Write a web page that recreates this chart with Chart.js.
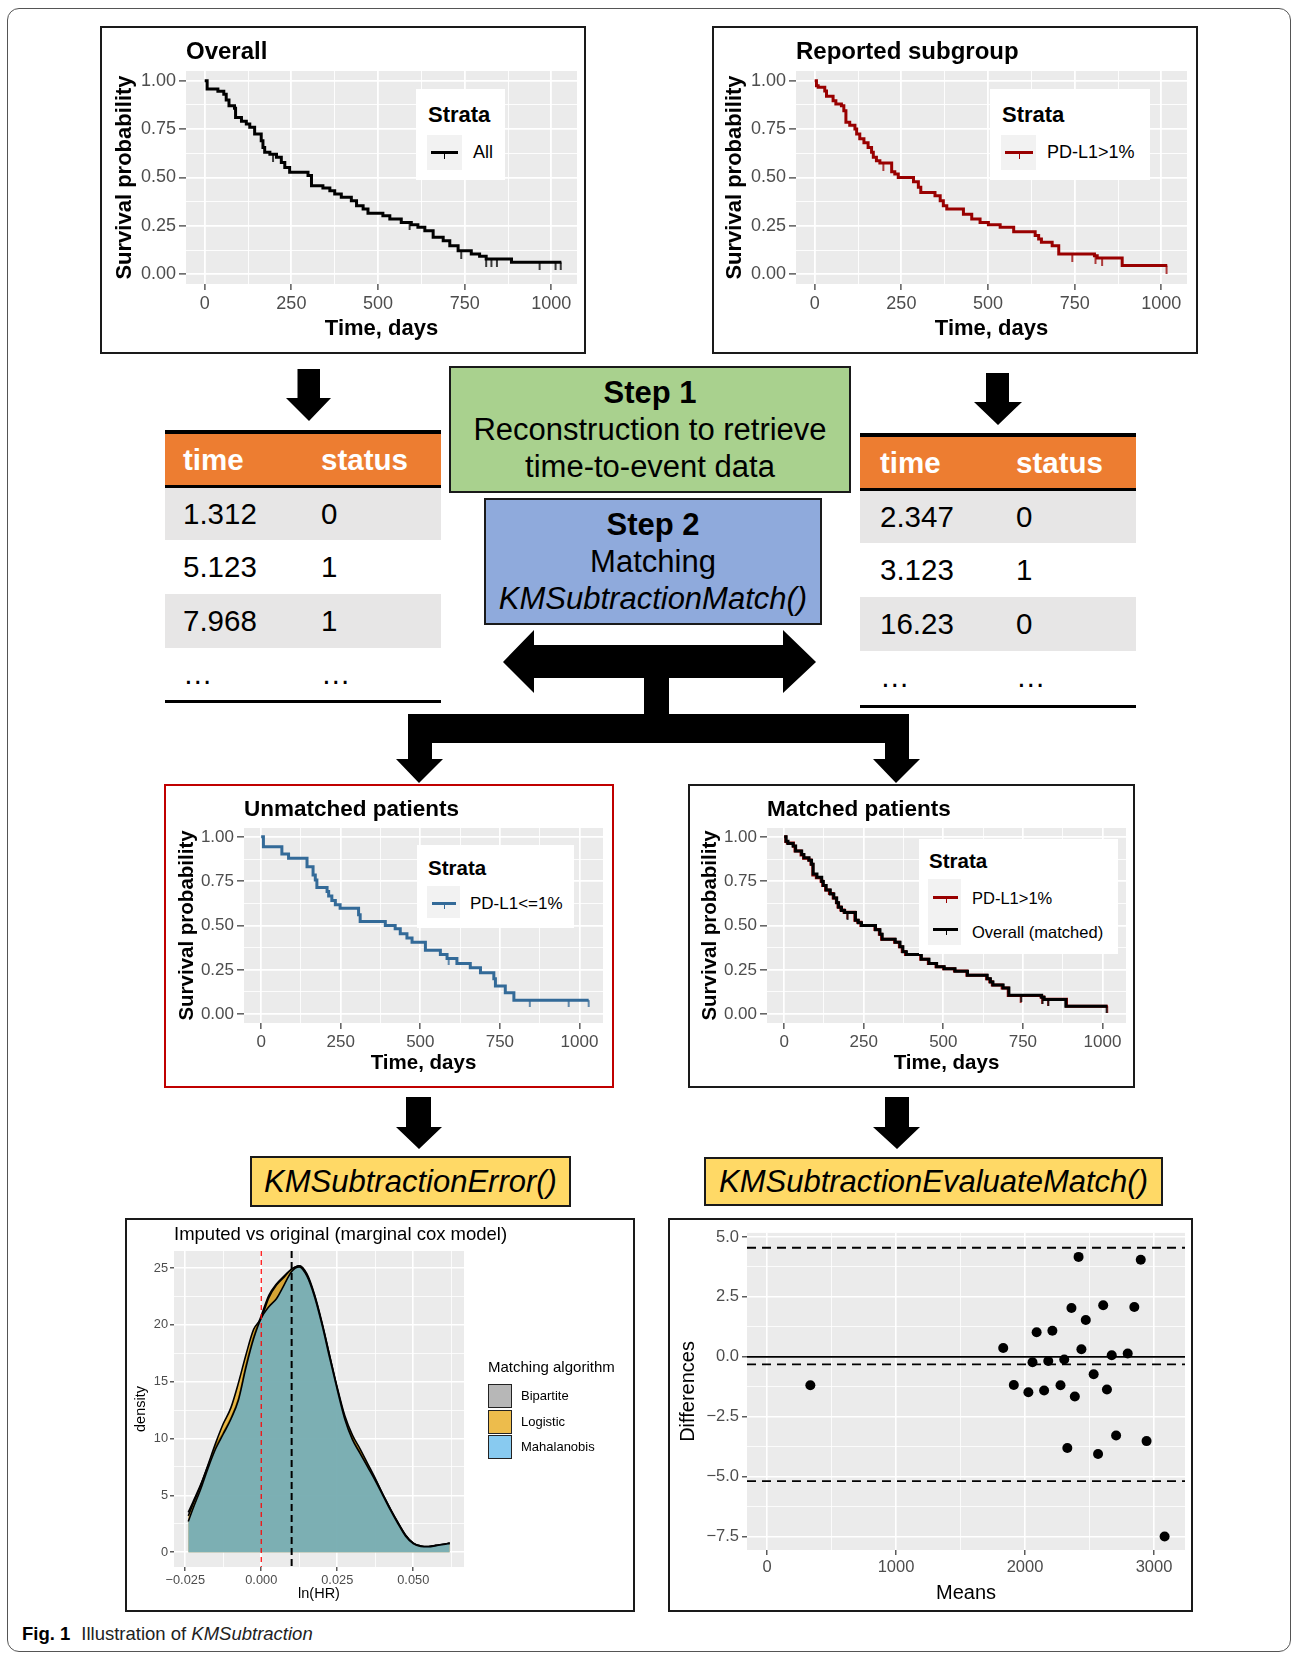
<!DOCTYPE html>
<html>
<head>
<meta charset="utf-8">
<title>Illustration of KMSubtraction</title>
<script src="https://cdn.jsdelivr.net/npm/chart.js@4.4.1/dist/chart.umd.min.js"></script>
<style>
  body { margin: 0; width: 1292px; height: 1654px; position: relative; background: #fff; overflow: hidden;
         font-family: "Liberation Sans", Arial, Helvetica, sans-serif; color: #000; }
  .abs { position: absolute; }
  .frame { position: absolute; left: 7px; top: 8px; width: 1284px; height: 1644px; border: 1px solid #555;
           border-radius: 12px; box-sizing: border-box; }
  .panel { position: absolute; box-sizing: border-box; border: 2px solid #1a1a1a; background: #fff; }
  .panel canvas { position: absolute; left: 0; top: 0; }
  .tx { position: absolute; line-height: 1; white-space: nowrap; }
  .leg { position: absolute; background: #fff; }
  .key { position: absolute; background: #F2F2F2; }
  .ln { position: absolute; height: 3px; }
  .tk { position: absolute; width: 1.5px; height: 7px; }
  .sq { position: absolute; width: 24px; height: 24px; box-sizing: border-box; border: 1.5px solid #222; }
  .step { position: absolute; box-sizing: border-box; border: 2px solid #1a1a1a; display: flex; flex-direction: column;
          align-items: center; justify-content: center; font-size: 31px; line-height: 37px; text-align: center; }
  .fn { position: absolute; box-sizing: border-box; border: 2px solid #1a1a1a; background: #FFD966; font-style: italic;
        font-size: 31px; display: flex; align-items: center; justify-content: center; }
  .bar { position: absolute; }
  .cell { position: absolute; font-size: 29.5px; white-space: nowrap; }
  .hd { color: #fff; font-weight: bold; }
</style>
</head>
<body>
<div class="frame"></div>

<!-- arrows -->
<svg class="abs" style="left:0;top:0" width="1292" height="1654">
  <polygon fill="#000" points="297.5,369 320,369 320,398 331,398 309,421 286,398 297.5,398"/>
  <polygon fill="#000" points="986,373 1009,373 1009,402 1022,402 998,425 974,402 986,402"/>
  <polygon fill="#000" points="503,662 534,630 534,645 783,645 783,630 816,662 783,693 783,678 534,678 534,693"/>
  <rect fill="#000" x="644" y="677" width="25" height="38"/>
  <polygon fill="#000" points="408,714 909,714 909,759 920,759 896,783 873,759 885,759 885,743 432,743 432,759 443,759 419,783 396,759 408,759"/>
  <polygon fill="#000" points="406,1097 431,1097 431,1127 442,1127 419,1149 396,1127 406,1127"/>
  <polygon fill="#000" points="885,1097 909,1097 909,1127 920,1127 897,1149 873,1127 885,1127"/>
</svg>

<!-- top KM panels -->
<div class="panel" style="left:100px;top:26px;width:486px;height:328px"><canvas id="kmOverall" width="482" height="324"></canvas></div>
<div class="panel" style="left:712px;top:26px;width:486px;height:328px"><canvas id="kmSubgroup" width="482" height="324"></canvas></div>

<div class="leg" style="left:416px;top:89px;width:89px;height:91px"></div>
<div class="tx" style="left:428px;top:104px;font-size:22px;font-weight:bold">Strata</div>
<div class="key" style="left:427px;top:135px;width:35px;height:35px"></div>
<div class="ln" style="left:431px;top:150.5px;width:27px;background:#000"></div>
<div class="tk" style="left:443.5px;top:152px;background:#000"></div>
<div class="tx" style="left:473px;top:143px;font-size:18px">All</div>

<div class="leg" style="left:990px;top:89px;width:160px;height:91px"></div>
<div class="tx" style="left:1002px;top:104px;font-size:22px;font-weight:bold">Strata</div>
<div class="key" style="left:1001px;top:135px;width:35px;height:35px"></div>
<div class="ln" style="left:1005px;top:150.5px;width:28px;background:#990000"></div>
<div class="tk" style="left:1018.5px;top:152px;background:#990000"></div>
<div class="tx" style="left:1047px;top:143px;font-size:18px">PD-L1&gt;1%</div>

<!-- tables -->
<div class="bar" style="left:165px;top:430px;width:276px;height:4px;background:#000"></div>
<div class="bar" style="left:165px;top:434px;width:276px;height:51px;background:#ED7D31"></div>
<div class="bar" style="left:165px;top:485px;width:276px;height:3px;background:#000"></div>
<div class="bar" style="left:165px;top:488px;width:276px;height:52px;background:#E7E6E6"></div>
<div class="bar" style="left:165px;top:594px;width:276px;height:54px;background:#E7E6E6"></div>
<div class="bar" style="left:165px;top:700px;width:276px;height:3px;background:#000"></div>
<div class="cell hd" style="left:183px;top:434px;line-height:51px">time</div>
<div class="cell hd" style="left:321px;top:434px;line-height:51px">status</div>
<div class="cell" style="left:183px;top:488px;line-height:52px">1.312</div>
<div class="cell" style="left:321px;top:488px;line-height:52px">0</div>
<div class="cell" style="left:183px;top:540px;line-height:54px">5.123</div>
<div class="cell" style="left:321px;top:540px;line-height:54px">1</div>
<div class="cell" style="left:183px;top:594px;line-height:54px">7.968</div>
<div class="cell" style="left:321px;top:594px;line-height:54px">1</div>
<div class="cell" style="left:183px;top:648px;line-height:52px">…</div>
<div class="cell" style="left:321px;top:648px;line-height:52px">…</div>

<div class="bar" style="left:860px;top:433px;width:276px;height:4px;background:#000"></div>
<div class="bar" style="left:860px;top:437px;width:276px;height:51px;background:#ED7D31"></div>
<div class="bar" style="left:860px;top:488px;width:276px;height:3px;background:#000"></div>
<div class="bar" style="left:860px;top:491px;width:276px;height:52px;background:#E7E6E6"></div>
<div class="bar" style="left:860px;top:597px;width:276px;height:54px;background:#E7E6E6"></div>
<div class="bar" style="left:860px;top:705px;width:276px;height:3px;background:#000"></div>
<div class="cell hd" style="left:880px;top:437px;line-height:51px">time</div>
<div class="cell hd" style="left:1016px;top:437px;line-height:51px">status</div>
<div class="cell" style="left:880px;top:491px;line-height:52px">2.347</div>
<div class="cell" style="left:1016px;top:491px;line-height:52px">0</div>
<div class="cell" style="left:880px;top:543px;line-height:54px">3.123</div>
<div class="cell" style="left:1016px;top:543px;line-height:54px">1</div>
<div class="cell" style="left:880px;top:597px;line-height:54px">16.23</div>
<div class="cell" style="left:1016px;top:597px;line-height:54px">0</div>
<div class="cell" style="left:880px;top:651px;line-height:52px">…</div>
<div class="cell" style="left:1016px;top:651px;line-height:52px">…</div>

<!-- step boxes -->
<div class="step" style="left:449px;top:366px;width:402px;height:127px;background:#A9D18E">
  <b>Step 1</b><span>Reconstruction to retrieve</span><span>time-to-event data</span>
</div>
<div class="step" style="left:484px;top:498px;width:338px;height:127px;background:#8FAADC">
  <b>Step 2</b><span>Matching</span><i>KMSubtractionMatch()</i>
</div>

<!-- middle KM panels -->
<div class="panel" style="left:164px;top:784px;width:450px;height:304px;border-color:#C00000"><canvas id="kmUnmatched" width="446" height="300"></canvas></div>
<div class="panel" style="left:688px;top:784px;width:447px;height:304px"><canvas id="kmMatched" width="443" height="300"></canvas></div>

<div class="leg" style="left:417px;top:845px;width:157px;height:83px"></div>
<div class="tx" style="left:428px;top:857.5px;font-size:20.5px;font-weight:bold">Strata</div>
<div class="key" style="left:427px;top:886px;width:33px;height:32px"></div>
<div class="ln" style="left:432px;top:901.5px;width:24px;background:#336A98"></div>
<div class="tk" style="left:443.5px;top:903px;height:6px;background:#336A98"></div>
<div class="tx" style="left:470px;top:894.5px;font-size:17px">PD-L1&lt;=1%</div>

<div class="leg" style="left:919px;top:839px;width:199px;height:115px"></div>
<div class="tx" style="left:929px;top:850.5px;font-size:20.5px;font-weight:bold">Strata</div>
<div class="key" style="left:928px;top:879px;width:33px;height:66px"></div>
<div class="ln" style="left:933px;top:895.5px;width:25px;background:#990000"></div>
<div class="tk" style="left:945.5px;top:897px;height:6px;background:#990000"></div>
<div class="tx" style="left:972px;top:890px;font-size:16.5px">PD-L1&gt;1%</div>
<div class="ln" style="left:933px;top:927.5px;width:25px;background:#000"></div>
<div class="tk" style="left:945.5px;top:929px;height:6px;background:#000"></div>
<div class="tx" style="left:972px;top:924px;font-size:16.5px">Overall (matched)</div>

<!-- function boxes -->
<div class="fn" style="left:250px;top:1156px;width:321px;height:51px">KMSubtractionError()</div>
<div class="fn" style="left:704px;top:1157px;width:459px;height:49px">KMSubtractionEvaluateMatch()</div>

<!-- bottom panels -->
<div class="panel" style="left:125px;top:1218px;width:510px;height:394px"><canvas id="densityChart" width="506" height="390"></canvas></div>
<div class="panel" style="left:668px;top:1218px;width:525px;height:394px"><canvas id="blandChart" width="521" height="390"></canvas></div>

<div class="tx" style="left:488px;top:1359px;font-size:15px">Matching algorithm</div>
<div class="sq" style="left:488px;top:1384px;background:rgba(153,153,153,0.7)"></div>
<div class="sq" style="left:488px;top:1409.5px;background:rgba(230,159,0,0.7)"></div>
<div class="sq" style="left:488px;top:1435px;background:rgba(86,180,233,0.7)"></div>
<div class="tx" style="left:521px;top:1389px;font-size:13px">Bipartite</div>
<div class="tx" style="left:521px;top:1414.5px;font-size:13px">Logistic</div>
<div class="tx" style="left:521px;top:1440px;font-size:13px">Mahalanobis</div>

<div class="tx" style="left:22px;top:1625px;font-size:18.5px;color:#222"><b style="color:#000">Fig. 1</b><span style="margin-left:11px">Illustration of </span><i>KMSubtraction</i></div>

<script>
"use strict";
// ---- Kaplan-Meier curves (time in days, survival probability after each step) ----
const kmTimeTicks = [0, 250, 500, 750, 1000];
const kmSurvTicks = [0, 0.25, 0.5, 0.75, 1];

const overallTime = [0, 7, 38, 55, 62, 70, 86, 89, 106, 120, 130, 144, 163, 168, 173, 188, 207, 221, 231, 245,
  298, 308, 341, 361, 375, 394, 423, 438, 457, 471, 514, 534, 567, 596, 615, 635, 659, 688, 707, 731,
  769, 793, 812, 885, 1029];
const overallSurv = [1, 0.957, 0.945, 0.93, 0.9, 0.87, 0.857, 0.81, 0.79, 0.776, 0.76, 0.725, 0.69, 0.655, 0.63,
  0.62, 0.604, 0.578, 0.552, 0.527, 0.51, 0.458, 0.446, 0.432, 0.415, 0.398, 0.38, 0.354, 0.337, 0.315,
  0.303, 0.286, 0.268, 0.256, 0.243, 0.225, 0.191, 0.174, 0.148, 0.122, 0.105, 0.093, 0.079, 0.062, 0.062];
const overallCensor = [197, 591, 740, 812, 827, 843, 966, 1012, 1027];

const subgroupTime = [0, 5, 10, 29, 34, 53, 61, 77, 84, 90, 101, 116, 121, 130, 142, 154, 164, 169, 178, 188,
  222, 231, 241, 285, 299, 306, 347, 362, 371, 381, 429, 453, 477, 501, 535, 574, 636, 646, 654, 685,
  704, 807, 815, 887, 1017];
const subgroupSurv = [1, 0.974, 0.966, 0.947, 0.92, 0.897, 0.88, 0.87, 0.845, 0.785, 0.77, 0.75, 0.725, 0.7, 0.68,
  0.655, 0.63, 0.604, 0.587, 0.575, 0.53, 0.518, 0.5, 0.478, 0.45, 0.423, 0.406, 0.38, 0.354, 0.337,
  0.31, 0.286, 0.268, 0.256, 0.243, 0.22, 0.2, 0.182, 0.165, 0.148, 0.105, 0.096, 0.084, 0.045, 0.045];
const subgroupCensor = [198, 743, 810, 829, 1015];

const unmatchedTime = [0, 7, 65, 86, 144, 163, 170, 175, 207, 212, 222, 233, 248, 306, 311, 390, 421, 437, 458,
  474, 516, 563, 584, 615, 657, 689, 731, 736, 767, 794, 1029];
const unmatchedSurv = [1, 0.944, 0.903, 0.879, 0.832, 0.785, 0.757, 0.714, 0.692, 0.667, 0.641, 0.617, 0.598,
  0.561, 0.523, 0.5, 0.482, 0.453, 0.43, 0.406, 0.36, 0.336, 0.314, 0.286, 0.262, 0.234, 0.2, 0.159,
  0.121, 0.079, 0.079];
const unmatchedCensor = [589, 844, 966, 1029];

const matchedTime = [0, 6, 12, 28, 36, 55, 62, 78, 86, 91, 103, 118, 123, 132, 145, 156, 165, 171, 180, 190,
  224, 233, 243, 287, 301, 308, 349, 364, 373, 384, 431, 455, 479, 503, 537, 576, 638, 648, 656, 688,
  706, 809, 817, 885, 1015];
const matchedSurv = [1, 0.975, 0.962, 0.948, 0.92, 0.9, 0.882, 0.868, 0.845, 0.79, 0.772, 0.748, 0.726, 0.7, 0.678,
  0.655, 0.628, 0.603, 0.585, 0.573, 0.53, 0.516, 0.5, 0.476, 0.45, 0.422, 0.405, 0.38, 0.352, 0.336,
  0.31, 0.286, 0.268, 0.256, 0.242, 0.22, 0.2, 0.181, 0.165, 0.147, 0.106, 0.095, 0.083, 0.044, 0.044];
const matchedCensor = [199, 745, 812, 830, 1013];

// ---- density of ln(HR) per matching algorithm ----
const lnHR = [-0.024, -0.0225, -0.02, -0.0175, -0.015, -0.0125, -0.01, -0.0075, -0.005, -0.0025, 0, 0.0025,
  0.005, 0.0075, 0.01, 0.0125, 0.015, 0.0175, 0.02, 0.0225, 0.025, 0.0275, 0.03, 0.0325, 0.035, 0.0375,
  0.04, 0.0425, 0.045, 0.0475, 0.05, 0.0525, 0.055, 0.0575, 0.06, 0.062];
const densBipartite = [3.5, 4.4, 5.9, 7.6, 9.3, 10.5, 11.8, 13.5, 16.5, 19.0, 20.8, 22.6, 23.6, 24.3, 24.9, 25.2,
  24.5, 22.7, 20.2, 17.3, 14.4, 11.8, 10.0, 8.8, 7.6, 6.4, 5.1, 3.8, 2.6, 1.5, 0.8, 0.55, 0.5, 0.6, 0.7, 0.8];
const densLogistic = [3.2, 4.2, 5.8, 7.7, 9.6, 11.3, 12.7, 14.9, 17.4, 19.6, 20.6, 22.4, 23.5, 24.2, 24.9, 25.2,
  24.4, 22.6, 20.1, 17.3, 14.5, 12.0, 10.3, 9.1, 7.8, 6.5, 5.1, 3.8, 2.6, 1.5, 0.8, 0.55, 0.5, 0.6, 0.7, 0.8];
const densMahalanobis = [2.7, 3.8, 5.5, 7.4, 9.1, 10.4, 11.7, 13.4, 16.3, 18.8, 20.6, 21.6, 22.3, 23.5, 24.7, 25.1,
  24.3, 22.5, 20.0, 17.1, 14.3, 11.7, 9.9, 8.7, 7.5, 6.3, 5.0, 3.7, 2.5, 1.4, 0.75, 0.5, 0.48, 0.58, 0.68, 0.78];
const lnHRTicks = [-0.025, 0, 0.025, 0.05];
const densityTicks = [0, 5, 10, 15, 20, 25];
const lnHRNull = 0;
const lnHRMean = 0.01;

// ---- Bland-Altman ----
const baMeans = [336, 1831, 1913, 2026, 2058, 2090, 2148, 2180, 2212, 2275, 2304, 2328, 2360, 2386, 2415, 2437,
  2471, 2532, 2566, 2606, 2635, 2672, 2706, 2796, 2847, 2897, 2942, 3082];
const baDiffs = [-1.18, 0.37, -1.17, -1.47, -0.22, 1.03, -1.4, -0.17, 1.09, -1.18, -0.11, -3.8, 2.04, -1.65, 4.17,
  0.32, 1.54, -0.72, -4.05, 2.15, -1.36, 0.07, -3.28, 0.14, 2.08, 4.05, -3.51, -7.49];
const meansTicks = [0, 1000, 2000, 3000];
const diffTicks = [-7.5, -5, -2.5, 0, 2.5, 5];
const baBias = -0.31;
const baUpper = 4.55;
const baLower = -5.18;

Chart.defaults.font.family = '"Liberation Sans", Arial, Helvetica, sans-serif';

// grey ggplot panel
const panelBg = {
  id: "panelBg",
  beforeDraw(chart) {
    const { ctx, chartArea: a } = chart;
    ctx.save();
    ctx.fillStyle = "#EBEBEB";
    ctx.fillRect(a.left, a.top, a.right - a.left, a.bottom - a.top);
    ctx.restore();
  },
};

// plot title, aligned with the panel like ggplot
const panelTitle = {
  id: "panelTitle",
  afterDraw(chart, args, opts) {
    if (!opts.text) return;
    const { ctx, chartArea: a } = chart;
    ctx.save();
    ctx.font = opts.font;
    ctx.fillStyle = "#000";
    ctx.textBaseline = "alphabetic";
    ctx.fillText(opts.text, a.left, a.top - opts.gap);
    ctx.restore();
  },
};

function drawRef(chart, lines) {
  const { ctx, chartArea: a, scales } = chart;
  lines.forEach((l) => {
    ctx.save();
    ctx.strokeStyle = l.color;
    ctx.lineWidth = l.width;
    ctx.setLineDash(l.dash || []);
    ctx.beginPath();
    if (l.axis === "x") {
      const p = scales.x.getPixelForValue(l.value);
      ctx.moveTo(p, a.top);
      ctx.lineTo(p, a.bottom);
    } else {
      const p = scales.y.getPixelForValue(l.value);
      ctx.moveTo(a.left, p);
      ctx.lineTo(a.right, p);
    }
    ctx.stroke();
    ctx.restore();
  });
}

// reference lines (vline / hline)
const refLines = {
  id: "refLines",
  beforeDatasetsDraw(chart, args, opts) {
    if (opts.under && opts.lines) drawRef(chart, opts.lines);
  },
  afterDatasetsDraw(chart, args, opts) {
    if (!opts.under && opts.lines) drawRef(chart, opts.lines);
  },
};

// axis with major + minor white grid lines
function axis(o) {
  const step = o.ticks[1] - o.ticks[0];
  const minors = [o.ticks[0] - step / 2].concat(o.ticks.map((v) => v + step / 2))
    .filter((v) => v > o.min && v < o.max);
  const all = o.ticks.concat(minors).sort((a, b) => a - b);
  const isMajor = (v) => o.ticks.some((m) => Math.abs(m - v) < step * 1e-6);
  return {
    type: "linear",
    min: o.min,
    max: o.max,
    afterBuildTicks: (s) => { s.ticks = all.map((v) => ({ value: v })); },
    afterFit: (s) => { if (o.horizontal) s.height = o.size; else s.width = o.size; },
    border: { display: false },
    grid: {
      color: "#FFFFFF",
      lineWidth: (c) => (c.tick && isMajor(c.tick.value) ? o.major : o.minor),
      tickColor: (c) => (c.tick && isMajor(c.tick.value) ? "#333333" : "rgba(0,0,0,0)"),
      tickWidth: 1.2,
      tickLength: o.tickLen,
    },
    ticks: {
      autoSkip: false, maxRotation: 0, minRotation: 0,
      color: "#4D4D4D",
      font: { size: o.tickSize },
      padding: o.pad,
      callback: (v) => (isMajor(v) ? o.fmt(v) : ""),
    },
    title: {
      display: true, text: o.title, color: "#000",
      font: { size: o.titleSize, weight: o.bold ? "bold" : "normal" },
      padding: o.horizontal ? { top: 0, bottom: 0 } : { top: 2, bottom: 0 },
    },
  };
}

const minusFmt = (digits) => (v) => (v < 0 ? "\u2212" : "") + Math.abs(v).toFixed(digits);

function stepPoints(times, surv) {
  return times.map((t, i) => ({ x: t, y: surv[i] }));
}

function censorPoints(censor, times, surv) {
  return censor.map((t) => {
    let s = surv[0];
    for (let i = 0; i < times.length; i++) if (times[i] <= t) s = surv[i];
    return { x: t, y: s };
  });
}

// the "+" censor tick of survminer, drawn below the curve
function censorMark(color, len) {
  const c = document.createElement("canvas");
  c.width = 4;
  c.height = len * 2;
  const g = c.getContext("2d");
  g.fillStyle = color;
  g.fillRect(1.25, len, 1.5, len);
  return c;
}

function kmChart(id, cfg) {
  const datasets = [];
  cfg.curves.forEach((c, i) => {
    const base = cfg.curves.length * 2 - i * 2;
    datasets.push({
      data: stepPoints(c.time, c.surv), borderColor: c.color, borderWidth: cfg.lw,
      stepped: true, pointRadius: 0, fill: false, order: base,
    });
    datasets.push({
      data: censorPoints(c.censor, c.time, c.surv), showLine: false,
      pointStyle: censorMark(c.color, cfg.mark), pointRadius: 3, order: base - 1,
    });
  });
  const s = cfg.scale;
  return new Chart(document.getElementById(id), {
    type: "line",
    data: { datasets },
    options: {
      responsive: false, animation: false, events: [],
      layout: { padding: cfg.pad },
      plugins: {
        legend: { display: false }, tooltip: { enabled: false },
        panelTitle: { text: cfg.title, font: "bold " + s.title + "px 'Liberation Sans', Arial", gap: 12.5 },
      },
      scales: {
        x: axis({ min: -54, max: 1074, ticks: kmTimeTicks, fmt: String, horizontal: true, size: s.xh,
          tickLen: 6, pad: 3, tickSize: s.tick, title: "Time, days", titleSize: s.axis, bold: true,
          major: s.major, minor: s.minor }),
        y: axis({ min: -0.05, max: 1.05, ticks: kmSurvTicks, fmt: (v) => v.toFixed(2), size: s.yw,
          tickLen: 7, pad: 3, tickSize: s.tick, title: "Survival probability", titleSize: s.axis, bold: true,
          major: s.major, minor: s.minor }),
      },
    },
    plugins: [panelBg, panelTitle],
  });
}

const topScale = { title: 24, axis: 22, tick: 18, xh: 58, yw: 76, major: 1.8, minor: 0.9 };
const midScale = { title: 22.5, axis: 20.5, tick: 17, xh: 53, yw: 71, major: 1.7, minor: 0.85 };

kmChart("kmOverall", {
  title: "Overall", scale: topScale, lw: 3, mark: 8, pad: { left: 8, top: 43, right: 7, bottom: 10 },
  curves: [{ time: overallTime, surv: overallSurv, censor: overallCensor, color: "#000000" }],
});
kmChart("kmSubgroup", {
  title: "Reported subgroup", scale: topScale, lw: 3, mark: 8, pad: { left: 6, top: 43, right: 9, bottom: 10 },
  curves: [{ time: subgroupTime, surv: subgroupSurv, censor: subgroupCensor, color: "#990000" }],
});
kmChart("kmUnmatched", {
  title: "Unmatched patients", scale: midScale, lw: 3, mark: 7, pad: { left: 7, top: 42, right: 9, bottom: 10 },
  curves: [{ time: unmatchedTime, surv: unmatchedSurv, censor: unmatchedCensor, color: "#336A98" }],
});
kmChart("kmMatched", {
  title: "Matched patients", scale: midScale, lw: 3, mark: 7, pad: { left: 6, top: 42, right: 7, bottom: 10 },
  curves: [
    { time: subgroupTime, surv: subgroupSurv, censor: subgroupCensor, color: "#990000" },
    { time: matchedTime, surv: matchedSurv, censor: matchedCensor, color: "#000000" },
  ],
});

// density of ln(HR)
const densityBase = { borderColor: "#000", borderWidth: 1.6, fill: "origin", pointRadius: 0,
  cubicInterpolationMode: "monotone" };
const toXY = (xs, ys) => xs.map((x, i) => ({ x: x, y: ys[i] }));
new Chart(document.getElementById("densityChart"), {
  type: "line",
  data: {
    datasets: [
      Object.assign({ label: "Bipartite", data: toXY(lnHR, densBipartite), backgroundColor: "rgba(153,153,153,0.7)", order: 3 }, densityBase),
      Object.assign({ label: "Logistic", data: toXY(lnHR, densLogistic), backgroundColor: "rgba(230,159,0,0.7)", order: 2 }, densityBase),
      Object.assign({ label: "Mahalanobis", data: toXY(lnHR, densMahalanobis), backgroundColor: "rgba(86,180,233,0.7)", order: 1 }, densityBase),
    ],
  },
  options: {
    responsive: false, animation: false, events: [],
    layout: { padding: { left: 3, top: 31, right: 169, bottom: 7 } },
    plugins: {
      legend: { display: false }, tooltip: { enabled: false },
      panelTitle: { text: "Imputed vs original (marginal cox model)", font: "18.5px 'Liberation Sans', Arial", gap: 11.5 },
      refLines: { lines: [
        { axis: "x", value: lnHRNull, color: "#FF0000", width: 1.2, dash: [5, 4] },
        { axis: "x", value: lnHRMean, color: "#000000", width: 2, dash: [7, 4] },
      ] },
    },
    scales: {
      x: axis({ min: -0.0287, max: 0.0667, ticks: lnHRTicks, fmt: minusFmt(3), horizontal: true, size: 36,
        tickLen: 4, pad: 2, tickSize: 12.8, title: "ln(HR)", titleSize: 14.5, bold: false, major: 1.6, minor: 0.8 }),
      y: axis({ min: -1.3, max: 26.5, ticks: densityTicks, fmt: String, size: 44,
        tickLen: 4, pad: 2, tickSize: 12.8, title: "density", titleSize: 14.5, bold: false, major: 1.6, minor: 0.8 }),
    },
  },
  plugins: [panelBg, panelTitle, refLines],
});

// Bland-Altman plot
new Chart(document.getElementById("blandChart"), {
  type: "scatter",
  data: {
    datasets: [{ data: toXY(baMeans, baDiffs), backgroundColor: "#000", borderWidth: 0, pointRadius: 5 }],
  },
  options: {
    responsive: false, animation: false, events: [],
    layout: { padding: { left: 4, top: 9, right: 6, bottom: 5 } },
    plugins: {
      legend: { display: false }, tooltip: { enabled: false },
      refLines: { under: true, lines: [
        { axis: "y", value: 0, color: "#000", width: 1.8 },
        { axis: "y", value: baUpper, color: "#000", width: 1.8, dash: [9, 6] },
        { axis: "y", value: baBias, color: "#000", width: 1.8, dash: [9, 6] },
        { axis: "y", value: baLower, color: "#000", width: 1.8, dash: [9, 6] },
      ] },
    },
    scales: {
      x: axis({ min: -155, max: 3240, ticks: meansTicks, fmt: String, horizontal: true, size: 55,
        tickLen: 5, pad: 3, tickSize: 16.5, title: "Means", titleSize: 20, bold: false, major: 1.6, minor: 0.8 }),
      y: axis({ min: -8.05, max: 5.17, ticks: diffTicks, fmt: minusFmt(1), size: 73,
        tickLen: 5, pad: 3, tickSize: 16.5, title: "Differences", titleSize: 20, bold: false, major: 1.6, minor: 0.8 }),
    },
  },
  plugins: [panelBg, refLines],
});
</script>
</body>
</html>
